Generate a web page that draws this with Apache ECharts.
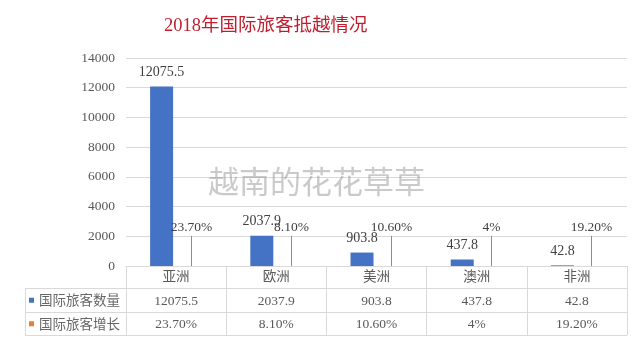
<!DOCTYPE html>
<html>
<head>
<meta charset="utf-8">
<script src="https://cdn.jsdelivr.net/npm/echarts@6/dist/echarts.min.js"></script>
<style>html,body{margin:0;padding:0;background:#fff}#c{width:640px;height:340px}</style>
</head>
<body>
<div id="c"></div>
<script>
var titleText = '2018年国际旅客抵越情况';
var categories = ['亚洲', '欧洲', '美洲', '澳洲', '非洲'];
var seriesNames = ['国际旅客数量', '国际旅客增长'];
var counts = [12075.5, 2037.9, 903.8, 437.8, 42.8];
var growth = [23.7, 8.1, 10.6, 4, 19.2];
var growthText = ['23.70%', '8.10%', '10.60%', '4%', '19.20%'];
var yTicks = { min: 0, max: 14000, interval: 2000 };
var watermark = '越南的花花草草';

var SERIF = '"Liberation Serif", "Noto Sans CJK SC", serif';
var chart = echarts.init(document.getElementById('c'), null, { renderer: 'canvas' });

var gridLeft = 126, gridRight = 13, gridTop = 58, gridBottom = 74;
var tableRight = 640 - gridRight;

chart.setOption({
  animation: false,
  backgroundColor: '#fff',
  title: {
    text: titleText,
    left: 159, top: 12,
    textStyle: { color: '#BE1E2D', fontSize: 18.5, fontWeight: 'normal', fontFamily: SERIF }
  },
  legend: {
    orient: 'vertical',
    left: 29, top: 288.5,
    padding: 0, itemGap: 0,
    itemWidth: 5, itemHeight: 5,
    icon: 'rect',
    selectedMode: false,
    data: [
      { name: seriesNames[0], itemStyle: { color: '#4472C4', opacity: 1 } },
      { name: seriesNames[1], itemStyle: { color: '#ED7D31', opacity: 1 } }
    ],
    textStyle: { color: '#666666', fontSize: 13.5, lineHeight: 23.5, fontFamily: '"Noto Sans CJK SC", sans-serif' }
  },
  grid: { left: gridLeft, right: gridRight, top: gridTop, bottom: gridBottom, containLabel: false },
  xAxis: {
    type: 'category',
    data: categories,
    axisLine: { show: true, lineStyle: { color: '#D9D9D9' } },
    axisTick: { show: true, length: 69, lineStyle: { color: '#D9D9D9' } },
    axisLabel: {
      margin: 0,
      color: '#595959',
      fontSize: 13.5,
      lineHeight: 23.5,
      fontFamily: SERIF,
      formatter: function (v, i) { return v + '\n' + counts[i] + '\n' + growthText[i]; }
    }
  },
  yAxis: {
    type: 'value',
    min: yTicks.min, max: yTicks.max, interval: yTicks.interval,
    axisLine: { show: false },
    axisTick: { show: false },
    splitLine: { lineStyle: { color: '#D9D9D9' } },
    axisLabel: {
      color: '#595959', fontSize: 13.5, margin: 11, fontFamily: SERIF,
      formatter: function (v) { return String(v); }
    }
  },
  graphic: [
    {
      type: 'text', left: 208, top: 166, z: 5, silent: true,
      style: { text: watermark, fontSize: 31, fontFamily: '"Noto Sans CJK SC", sans-serif', fill: 'rgba(150,150,150,0.5)' }
    },
    { type: 'line', shape: { x1: 25, y1: 288.5, x2: tableRight, y2: 288.5 }, style: { stroke: '#D9D9D9', lineWidth: 1 }, silent: true },
    { type: 'line', shape: { x1: 25, y1: 312.5, x2: tableRight, y2: 312.5 }, style: { stroke: '#D9D9D9', lineWidth: 1 }, silent: true },
    { type: 'line', shape: { x1: 25, y1: 335.5, x2: tableRight, y2: 335.5 }, style: { stroke: '#D9D9D9', lineWidth: 1 }, silent: true },
    { type: 'line', shape: { x1: 25.5, y1: 288.5, x2: 25.5, y2: 335.5 }, style: { stroke: '#D9D9D9', lineWidth: 1 }, silent: true }
  ],
  series: [
    {
      name: seriesNames[0],
      type: 'bar',
      data: counts,
      barWidth: 23,
      barGap: '26%',
      itemStyle: { color: '#4472C4' },
      label: {
        show: true, position: 'top', distance: 7,
        color: '#404040', fontSize: 14, fontFamily: SERIF
      }
    },
    {
      name: seriesNames[1],
      type: 'bar',
      data: growth,
      barWidth: 23,
      itemStyle: { color: '#ED7D31', opacity: 0 },
      silent: true
    },
    {
      name: 'growthLabels',
      type: 'custom',
      data: growth.map(function (v, i) { return [i, v]; }),
      silent: true,
      z: 6,
      renderItem: function (params, api) {
        var i = api.value(0);
        var p = api.coord([i, 0]);
        var w = api.size([1, 0])[0];
        var x = Math.round(p[0] + w * 0.145) + 0.5;
        var top = p[1] - 30;
        return {
          type: 'group',
          children: [
            { type: 'line', shape: { x1: x, y1: p[1], x2: x, y2: top }, style: { stroke: '#8C8C8C', lineWidth: 1 } },
            { type: 'text', style: { text: growthText[i], x: x, y: top - 2, align: 'center', verticalAlign: 'bottom', fontSize: 13.5, fontFamily: SERIF, fill: '#404040' } }
          ]
        };
      }
    }
  ]
});
</script>
</body>
</html>
